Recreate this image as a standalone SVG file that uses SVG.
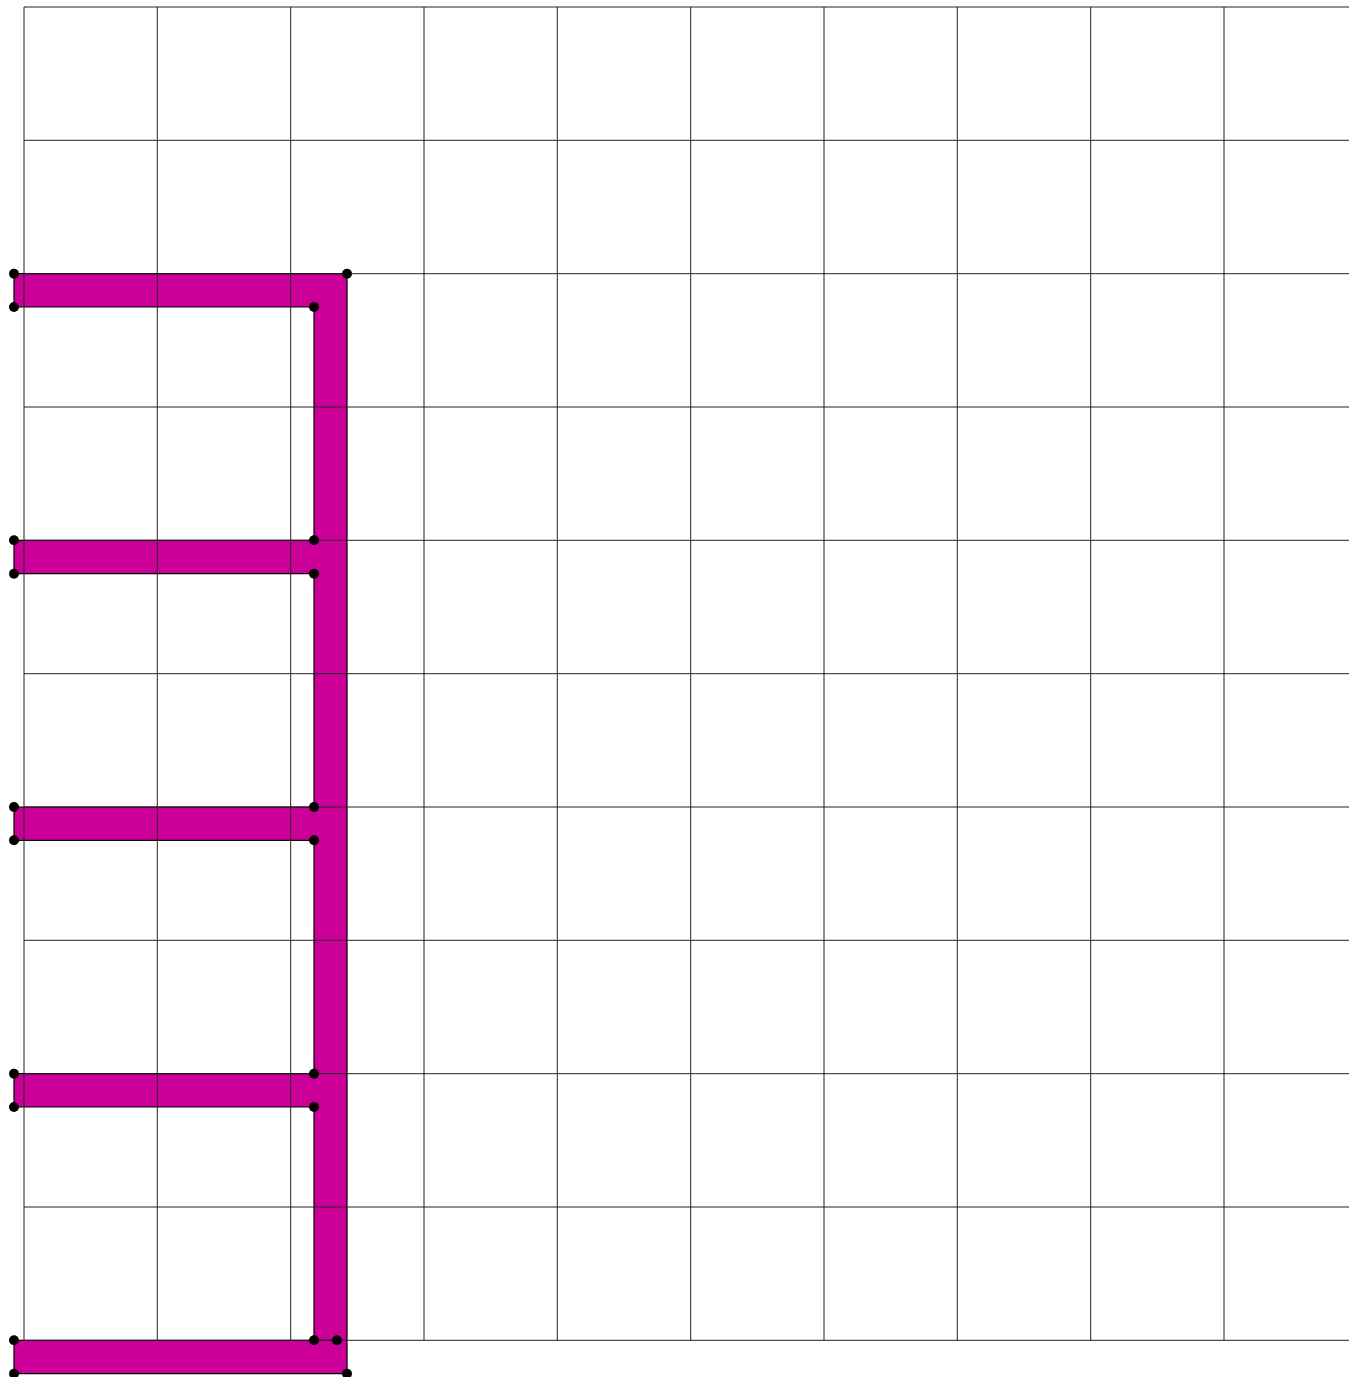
<svg xmlns="http://www.w3.org/2000/svg" width="1349" height="1377" viewBox="0 0 1349 1377">
<style>
.shape{fill:#cc0099;stroke:#000;stroke-width:1.2;stroke-linejoin:miter}
.grid line{stroke:#222;stroke-width:1}
.pt{fill:#000}
</style>
<rect width="1349" height="1377" fill="#fff"/>
<g id="comb">
<polygon class="shape" points="14,273.7 347,273.7 347,1373.7 14,1373.7 14,1340.3 337,1340.3 314,1340.3 314,1107 14,1107 14,1073.7 314,1073.7 314,840.3 14,840.3 14,807 314,807 314,573.7 14,573.7 14,540.3 314,540.3 314,307 14,307"/>
</g>
<g id="grid" class="grid">
<line x1="24" y1="7" x2="1349" y2="7"/>
<line x1="24" y1="140.3" x2="1349" y2="140.3"/>
<line x1="24" y1="273.7" x2="1349" y2="273.7"/>
<line x1="24" y1="407" x2="1349" y2="407"/>
<line x1="24" y1="540.3" x2="1349" y2="540.3"/>
<line x1="24" y1="673.7" x2="1349" y2="673.7"/>
<line x1="24" y1="807" x2="1349" y2="807"/>
<line x1="24" y1="940.3" x2="1349" y2="940.3"/>
<line x1="24" y1="1073.7" x2="1349" y2="1073.7"/>
<line x1="24" y1="1207" x2="1349" y2="1207"/>
<line x1="24" y1="1340.3" x2="1349" y2="1340.3"/>
<line x1="24" y1="7" x2="24" y2="1340.3"/>
<line x1="157.3" y1="7" x2="157.3" y2="1340.3"/>
<line x1="290.7" y1="7" x2="290.7" y2="1340.3"/>
<line x1="424" y1="7" x2="424" y2="1340.3"/>
<line x1="557.3" y1="7" x2="557.3" y2="1340.3"/>
<line x1="690.7" y1="7" x2="690.7" y2="1340.3"/>
<line x1="824" y1="7" x2="824" y2="1340.3"/>
<line x1="957.3" y1="7" x2="957.3" y2="1340.3"/>
<line x1="1090.7" y1="7" x2="1090.7" y2="1340.3"/>
<line x1="1224" y1="7" x2="1224" y2="1340.3"/>
</g>
<g id="vertices" class="pt">
<circle cx="14" cy="273.7" r="5"/>
<circle cx="347" cy="273.7" r="5"/>
<circle cx="347" cy="1373.7" r="5"/>
<circle cx="14" cy="1373.7" r="5"/>
<circle cx="14" cy="1340.3" r="5"/>
<circle cx="337" cy="1340.3" r="5"/>
<circle cx="314" cy="1340.3" r="5"/>
<circle cx="314" cy="1107" r="5"/>
<circle cx="14" cy="1107" r="5"/>
<circle cx="14" cy="1073.7" r="5"/>
<circle cx="314" cy="1073.7" r="5"/>
<circle cx="314" cy="840.3" r="5"/>
<circle cx="14" cy="840.3" r="5"/>
<circle cx="14" cy="807" r="5"/>
<circle cx="314" cy="807" r="5"/>
<circle cx="314" cy="573.7" r="5"/>
<circle cx="14" cy="573.7" r="5"/>
<circle cx="14" cy="540.3" r="5"/>
<circle cx="314" cy="540.3" r="5"/>
<circle cx="314" cy="307" r="5"/>
<circle cx="14" cy="307" r="5"/>
</g>
</svg>
